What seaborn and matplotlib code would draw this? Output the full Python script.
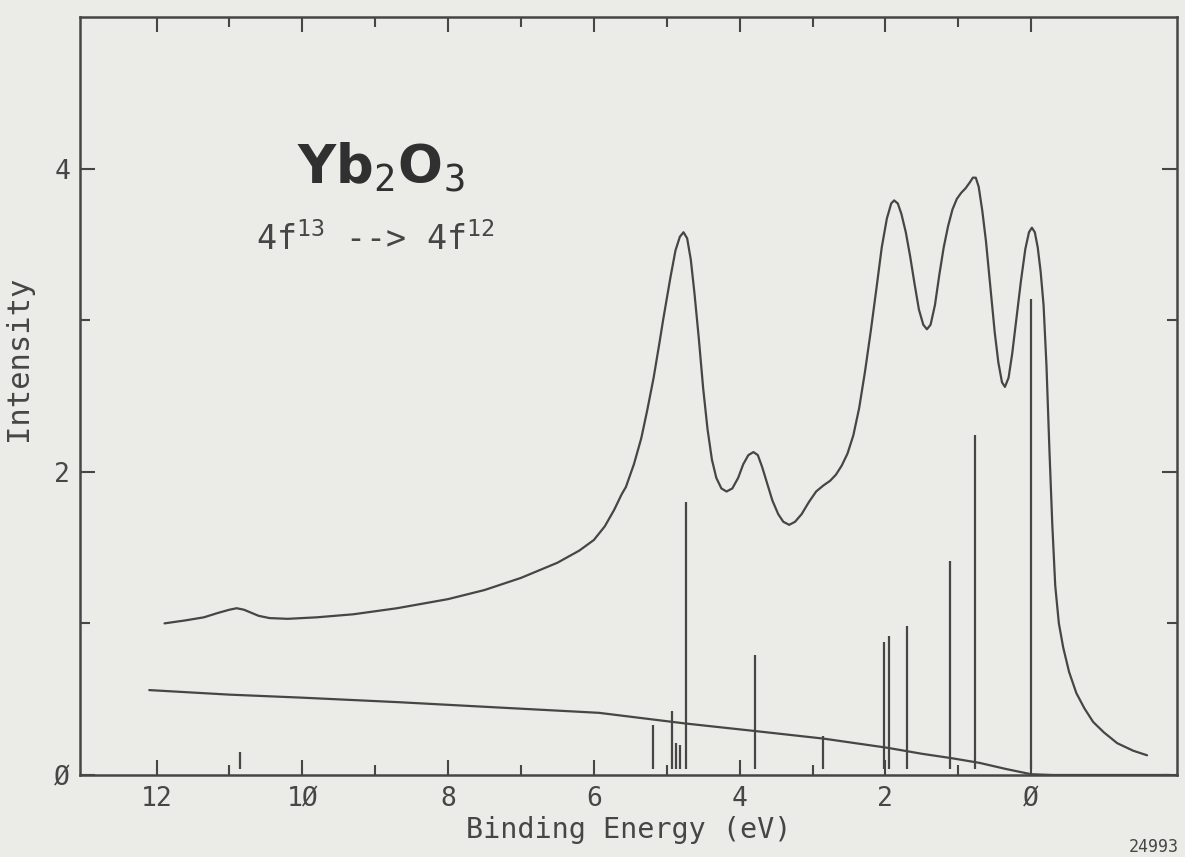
import matplotlib
matplotlib.use("Agg")
import matplotlib.pyplot as plt
import seaborn as sns
from matplotlib.ticker import FixedLocator, FixedFormatter

# spectrum (binding energy in eV, intensity)
spec_x = [11.89, 11.6, 11.35, 11.15, 11.0, 10.9, 10.8, 10.7, 10.6, 10.45, 10.2,
          9.8, 9.3, 8.7, 8.0, 7.5, 7.0, 6.5, 6.2, 6.0, 5.85, 5.72, 5.62, 5.56,
          5.45, 5.35, 5.27, 5.18, 5.10, 5.05, 4.95, 4.88, 4.82, 4.77, 4.72, 4.67,
          4.62, 4.56, 4.50, 4.44, 4.38, 4.32, 4.25, 4.18, 4.10, 4.02, 3.95, 3.88,
          3.81, 3.75, 3.69, 3.62, 3.55, 3.47, 3.40, 3.32, 3.24, 3.15, 3.05, 2.95,
          2.85, 2.76, 2.68, 2.60, 2.52, 2.44, 2.36, 2.28, 2.20, 2.12, 2.05, 1.98,
          1.92, 1.88, 1.83, 1.78, 1.72, 1.66, 1.60, 1.54, 1.48, 1.43, 1.38, 1.32,
          1.26, 1.20, 1.14, 1.08, 1.02, 0.96, 0.90, 0.84, 0.80, 0.76, 0.72, 0.67,
          0.62, 0.56, 0.50, 0.45, 0.40, 0.36, 0.31, 0.26, 0.20, 0.14, 0.08, 0.03,
          -0.01, -0.05, -0.09, -0.13, -0.17, -0.21, -0.25, -0.29, -0.33, -0.38,
          -0.44, -0.52, -0.62, -0.73, -0.85, -1.00, -1.18, -1.40, -1.59]
spec_y = [1.00, 1.02, 1.04, 1.07, 1.09, 1.10, 1.09, 1.07, 1.05, 1.035, 1.03,
          1.04, 1.06, 1.10, 1.16, 1.22, 1.30, 1.40, 1.48, 1.55, 1.64, 1.75, 1.85, 1.90,
          2.05, 2.22, 2.40, 2.62, 2.85, 3.00, 3.28, 3.46, 3.55, 3.58, 3.54, 3.40,
          3.18, 2.88, 2.55, 2.28, 2.08, 1.96, 1.89, 1.87, 1.89, 1.96, 2.05, 2.11,
          2.13, 2.11, 2.03, 1.92, 1.81, 1.72, 1.67, 1.65, 1.67, 1.72, 1.80, 1.87,
          1.91, 1.94, 1.98, 2.04, 2.12, 2.24, 2.42, 2.66, 2.93, 3.22, 3.48, 3.67,
          3.77, 3.79, 3.77, 3.70, 3.58, 3.42, 3.24, 3.07, 2.97, 2.94, 2.97, 3.10,
          3.30, 3.48, 3.62, 3.73, 3.80, 3.84, 3.87, 3.91, 3.94, 3.94, 3.88, 3.72,
          3.52, 3.22, 2.92, 2.72, 2.59, 2.56, 2.62, 2.78, 3.02, 3.26, 3.47, 3.58,
          3.61, 3.58, 3.48, 3.32, 3.10, 2.70, 2.15, 1.65, 1.25, 1.00,
          0.84, 0.68, 0.54, 0.44, 0.35, 0.28, 0.21, 0.16, 0.13]

# background line
bg_x = [12.1, 11.0, 10.0, 8.67, 7.5, 5.93, 4.75, 3.79, 2.85, 1.98, 1.5, 1.08,
        0.71, 0.35, 0.0, -0.3, -1.0, -1.9]
bg_y = [0.56, 0.53, 0.51, 0.48, 0.45, 0.41, 0.34, 0.29, 0.24, 0.18, 0.14, 0.11,
        0.08, 0.04, 0.005, 0.0, 0.0, 0.0]

# multiplet sticks
stick_x = [10.86, 5.19, 4.93, 4.87, 4.82, 4.73, 3.79, 2.85, 2.02, 1.95, 1.70,
           1.11, 0.77, 0.00]
stick_y = [0.15, 0.33, 0.42, 0.21, 0.20, 1.80, 0.79, 0.26, 0.88, 0.92, 0.98,
           1.41, 2.24, 3.14]

x_major = [12, 10, 8, 6, 4, 2, 0]
x_labels = ["12", "1Ø", "8", "6", "4", "2", "Ø"]
x_minor = [11, 9, 7, 5, 3, 1]
y_major = [0, 2, 4]
y_labels = ["Ø", "2", "4"]
y_minor = [1, 3]

sns.set_theme(style="ticks")
ink = "#464646"
paper = "#ebebe7"
plt.rcParams["font.family"] = ["DejaVu Sans Mono", "DejaVu Sans"]
plt.rcParams["mathtext.fontset"] = "custom"
plt.rcParams["mathtext.rm"] = "DejaVu Sans Mono"
plt.rcParams["mathtext.it"] = "DejaVu Sans Mono"

fig = plt.figure(figsize=(11.85, 8.57), dpi=100, facecolor=paper)
ax = fig.add_axes([0.0675, 0.0957, 0.9257, 0.8845], facecolor=paper)

sns.lineplot(x=spec_x, y=spec_y, sort=False, estimator=None, color=ink, lw=1.6, ax=ax)
sns.lineplot(x=bg_x, y=bg_y, sort=False, estimator=None, color=ink, lw=1.6, ax=ax)
ax.vlines(stick_x, 0.04, stick_y, color=ink, lw=1.6)

ax.set_xlim(13.05, -2.0)
ax.set_ylim(0, 5)

ax.xaxis.set_major_locator(FixedLocator(x_major))
ax.xaxis.set_major_formatter(FixedFormatter(x_labels))
ax.xaxis.set_minor_locator(FixedLocator(x_minor))
ax.yaxis.set_major_locator(FixedLocator(y_major))
ax.yaxis.set_major_formatter(FixedFormatter(y_labels))
ax.yaxis.set_minor_locator(FixedLocator(y_minor))

ax.tick_params(which="both", direction="in", top=True, right=True, color=ink,
               width=1.5, labelcolor=ink, labelsize=19)
ax.tick_params(which="major", length=11)
ax.tick_params(which="minor", length=7)
ax.tick_params(axis="x", pad=8)
ax.tick_params(axis="y", pad=7)

for s in ax.spines.values():
    s.set_color(ink)
    s.set_linewidth(1.8)

ax.set_xlabel("Binding Energy (eV)", fontsize=20.5, color=ink, labelpad=3)
ax.set_ylabel("Intensity", fontsize=22, color=ink, labelpad=4)
ax.yaxis.set_label_coords(-0.043, 0.55)

ax.text(10.07, 3.90, r"Yb$_2$O$_3$", fontsize=38, color="#303030",
        family="DejaVu Sans", fontweight="bold", va="baseline", ha="left")
ax.text(10.63, 3.46, r"4f$^{13}$ --> 4f$^{12}$", fontsize=24, color=ink,
        va="baseline", ha="left")

fig.text(0.995, 0.001, "24993", fontsize=12, color=ink, va="bottom", ha="right")

fig.savefig("out.png", dpi=100, facecolor=paper)
